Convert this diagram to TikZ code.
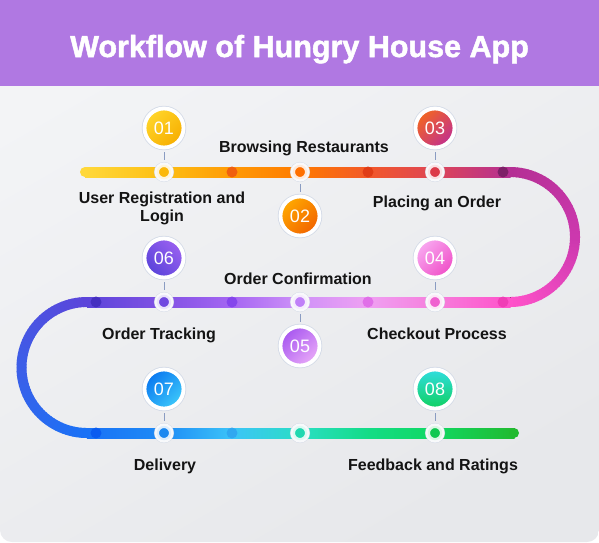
\documentclass[tikz,border=0pt]{standalone}
\usepackage{fontspec}
\setmainfont{Liberation Sans}
\newfontfamily\titlefont{Liberation Sans}[BoldFeatures={FakeBold=1.6}]
\definecolor{hdr}{HTML}{B078E2}
\definecolor{bgA}{HTML}{F3F4F6}
\definecolor{bgB}{HTML}{E7E8EB}
\definecolor{ringc}{HTML}{D3DAE7}
\definecolor{connc}{HTML}{8A9CC2}
\definecolor{labc}{HTML}{141414}
% row 1 stops
\definecolor{ra}{HTML}{FFD83A}
\definecolor{rb}{HTML}{FDBE12}
\definecolor{rc}{HTML}{FF9A06}
\definecolor{rd}{HTML}{FF7A00}
\definecolor{re}{HTML}{F2582A}
\definecolor{rf}{HTML}{DE4556}
\definecolor{rg}{HTML}{B42F94}
\definecolor{rarcm}{HTML}{CC38AE}
% row 2 stops (right to left)
\definecolor{sa}{HTML}{FF52CA}
\definecolor{sb}{HTML}{F67EDC}
\definecolor{sc}{HTML}{EFA0F2}
\definecolor{sd}{HTML}{CF92F8}
\definecolor{se}{HTML}{A566F2}
\definecolor{sf}{HTML}{8252E4}
\definecolor{sg}{HTML}{5C45DA}
\definecolor{larcm}{HTML}{3C5EE8}
% row 3 stops
\definecolor{ta}{HTML}{1A72F6}
\definecolor{tb}{HTML}{1E8CF6}
\definecolor{tc}{HTML}{3CC4F8}
\definecolor{td}{HTML}{2ADEC4}
\definecolor{te}{HTML}{14DC86}
\definecolor{tf}{HTML}{10D862}
\definecolor{tg}{HTML}{22BA30}
% darker dots
\definecolor{da}{HTML}{F0600E}
\definecolor{db}{HTML}{E03C16}
\definecolor{dc}{HTML}{7E2068}
\definecolor{dd}{HTML}{F03EB6}
\definecolor{de}{HTML}{E070E8}
\definecolor{df}{HTML}{8545EC}
\definecolor{dg}{HTML}{4530C0}
\definecolor{dh}{HTML}{0A5CF0}
\definecolor{di}{HTML}{30A8F0}
\newcommand\hseg[5]{\fill[left color=#4, right color=#5] (#1,#3-5) rectangle (#2+0.6,#3+5);}
\newcommand\trackarc[7]{%
  \foreach \i in {0,...,29}{%
    \pgfmathsetmacro\aa{#3+(#4-#3)*\i/30}%
    \pgfmathsetmacro\bb{#3+(#4-#3)*(\i+1.2)/30}%
    \pgfmathtruncatemacro\pp{100-100*\i/29}%
    \draw[line width=10pt, color=#5!\pp!#6] plot[domain=\aa:\bb, samples=4, variable=\t] ({#1+#7*cos(\t)},{#2+#7*sin(\t)});
  }}
\begin{document}
\begin{tikzpicture}[x=1pt,y=-1pt,
  lab/.style={font=\fontsize{16}{19}\selectfont\bfseries, text=labc, inner sep=0pt, anchor=base},
  bignum/.style={circle, minimum size=39pt, inner sep=0pt, text=white, font=\fontsize{18}{20}\selectfont, draw=white, line width=3.8pt, preaction={draw=ringc, line width=5.4pt}},
  marker/.style={circle, minimum size=14.5pt, inner sep=0pt, draw=white, draw opacity=0.85, line width=4.5pt, preaction={draw=ringc, line width=5.5pt}},
  conn/.style={draw=connc, line width=0.8pt, shorten <=2.8pt, shorten >=2.8pt}
]
\useasboundingbox (0,0) rectangle (599,542);
\fill[white] (0,0) rectangle (599,542);
\shade[top color=bgA, bottom color=bgB, shading angle=30, rounded corners=12pt] (0,0) rectangle (599,542);
\fill[hdr] (0,0) rectangle (599,86);
\node[font=\titlefont\fontsize{30.5}{36}\selectfont\bfseries, text=white, inner sep=0pt, anchor=base] (title) at (299.5,57) {Workflow of Hungry House App};

% row 1
\fill[ra] (85,172) circle[radius=5pt];
\hseg{85}{164}{172}{ra}{rb}
\hseg{164}{232}{172}{rb}{rc}
\hseg{232}{300}{172}{rc}{rd}
\hseg{300}{368}{172}{rd}{re}
\hseg{368}{435}{172}{re}{rf}
\hseg{435}{510}{172}{rf}{rg}
\trackarc{510}{237}{-90}{0}{rg}{rarcm}{65}
\trackarc{510}{237}{0}{90}{rarcm}{sa}{65}
% row 2
\hseg{87}{164}{302}{sg}{sf}
\hseg{164}{232}{302}{sf}{se}
\hseg{232}{300}{302}{se}{sd}
\hseg{300}{368}{302}{sd}{sc}
\hseg{368}{435}{302}{sc}{sb}
\hseg{435}{510}{302}{sb}{sa}
\trackarc{87}{367.5}{270}{180}{sg}{larcm}{65.5}
\trackarc{87}{367.5}{180}{90}{larcm}{ta}{65.5}
% row 3
\hseg{87}{164}{433}{ta}{tb}
\hseg{164}{232}{433}{tb}{tc}
\hseg{232}{300}{433}{tc}{td}
\hseg{300}{368}{433}{td}{te}
\hseg{368}{435}{433}{te}{tf}
\hseg{435}{514}{433}{tf}{tg}
\fill[tg] (514,433) circle[radius=5pt];

% darker dots on the track
\fill[da] (232,172) circle[radius=5.5pt];
\fill[db] (368,172) circle[radius=5.5pt];
\fill[dc] (503,172) circle[radius=5.5pt];
\fill[dd] (503,302) circle[radius=5.5pt];
\fill[de] (368,302) circle[radius=5.5pt];
\fill[df] (232,302) circle[radius=5.5pt];
\fill[dg] (96,302) circle[radius=5.5pt];
\fill[dh] (96,433) circle[radius=5.5pt];
\fill[di] (232,433) circle[radius=5.5pt];

% markers
\node[marker, fill={rgb,255:red,251;green,184;blue,10}] (m01) at (164,172) {};
\node[marker, fill={rgb,255:red,255;green,112;blue,0}] (m02) at (300,172) {};
\node[marker, fill={rgb,255:red,220;green,58;blue,72}] (m03) at (435,172) {};
\node[marker, fill={rgb,255:red,240;green,96;blue,208}] (m04) at (435,302) {};
\node[marker, fill={rgb,255:red,192;green,128;blue,248}] (m05) at (300,302) {};
\node[marker, fill={rgb,255:red,112;green,72;blue,224}] (m06) at (164,302) {};
\node[marker, fill={rgb,255:red,26;green,136;blue,240}] (m07) at (164,433) {};
\node[marker, fill={rgb,255:red,32;green,216;blue,176}] (m09) at (300,433) {};
\node[marker, fill={rgb,255:red,16;green,200;blue,80}] (m08) at (435,433) {};

% numbered circles
\node[bignum, top color={rgb,255:red,255;green,213;blue,42}, bottom color={rgb,255:red,247;green,174;blue,0}, shading angle=45] (n01) at (164,128) {01};
\node[bignum, top color={rgb,255:red,255;green,168;blue,0}, bottom color={rgb,255:red,242;green,100;blue,0}, shading angle=45] (n02) at (300,216) {02};
\node[bignum, top color={rgb,255:red,242;green,101;blue,34}, bottom color={rgb,255:red,194;green,48;blue,143}, shading angle=45] (n03) at (435,128) {03};
\node[bignum, top color={rgb,255:red,248;green,168;blue,240}, bottom color={rgb,255:red,240;green,80;blue,200}, shading angle=45] (n04) at (435,258) {04};
\node[bignum, top color={rgb,255:red,168;green,88;blue,240}, bottom color={rgb,255:red,232;green,168;blue,248}, shading angle=45] (n05) at (300,346) {05};
\node[bignum, top color={rgb,255:red,154;green,96;blue,240}, bottom color={rgb,255:red,90;green,68;blue,218}, shading angle=-45] (n06) at (164,258) {06};
\node[bignum, top color={rgb,255:red,10;green,120;blue,240}, bottom color={rgb,255:red,60;green,200;blue,250}, shading angle=45] (n07) at (164,389) {07};
\node[bignum, top color={rgb,255:red,48;green,221;blue,224}, bottom color={rgb,255:red,16;green,208;blue,96}, shading angle=0] (n08) at (435,389) {08};

% connectors
\draw[conn] (n01) -- (m01);
\draw[conn] (m02) -- (n02);
\draw[conn] (n03) -- (m03);
\draw[conn] (n04) -- (m04);
\draw[conn] (m05) -- (n05);
\draw[conn] (n06) -- (m06);
\draw[conn] (n07) -- (m07);
\draw[conn] (n08) -- (m08);

% labels
\node[lab] (t01a) at (162,203) {User Registration and};
\node[lab] (t01b) at (162,221) {Login};
\node[lab] (t02) at (304,152) {Browsing Restaurants};
\node[lab] (t03) at (437,207) {Placing an Order};
\node[lab] (t04) at (437,339) {Checkout Process};
\node[lab] (t05) at (298,284) {Order Confirmation};
\node[lab] (t06) at (159,339) {Order Tracking};
\node[lab] (t07) at (165,470) {Delivery};
\node[lab] (t08) at (433,470) {Feedback and Ratings};
\end{tikzpicture}
\end{document}
